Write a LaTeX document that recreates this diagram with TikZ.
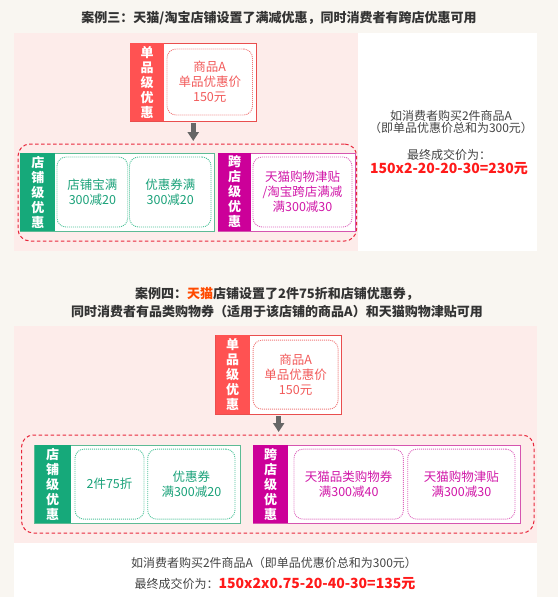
\documentclass[tikz,border=0pt]{standalone}
\usepackage{fontspec}
\setmainfont{Noto Sans CJK SC}
\usepackage{tikz}
\usetikzlibrary{positioning, arrows.meta}

\definecolor{cbg}{HTML}{F9F6F1}
\definecolor{cpink}{HTML}{FDECEA}
\definecolor{ctitle}{HTML}{333333}
\definecolor{ctext}{HTML}{444444}
\definecolor{corange}{HTML}{FF4A00}
\definecolor{cres}{HTML}{FF1A1A}
\definecolor{cred}{HTML}{FF5252}
\definecolor{credf}{HTML}{E94E4E}
\definecolor{credd}{HTML}{F07878}
\definecolor{credt}{HTML}{F25A5A}
\definecolor{cgreen}{HTML}{16A97A}
\definecolor{cgreenf}{HTML}{5DBB95}
\definecolor{cgreend}{HTML}{4EC39A}
\definecolor{cgreent}{HTML}{1BA27A}
\definecolor{cmag}{HTML}{CC0099}
\definecolor{cmagf}{HTML}{D555B0}
\definecolor{cmagd}{HTML}{DE66BE}
\definecolor{cmagt}{HTML}{D118A8}
\definecolor{cdash}{HTML}{E8283C}
\definecolor{cgray}{HTML}{666666}

\begin{document}
\begin{tikzpicture}[x=1pt, y=-1pt,
    every node/.style={inner sep=0pt, outer sep=0pt},
    framebox/.style={draw=#1, line width=0.9pt, fill=white, anchor=north west},
    lbl/.style={fill=#1, text=white, font=\fontsize{13}{15}\selectfont\bfseries,
        align=center, anchor=north west, minimum width=34, minimum height=78},
    cell/.style={rounded corners=9pt, line width=0.9pt, dash pattern=on 1pt off 1pt,
        fill=white, align=center, font=\fontsize{12.5}{15}\selectfont},
    redcell/.style={cell, draw=credd, text=credt},
    greencell/.style={cell, draw=cgreend, text=cgreent},
    magcell/.style={cell, draw=cmagd, text=cmagt},
    grp/.style={draw=cdash, line width=1pt, dash pattern=on 3.5pt off 2.5pt,
        rounded corners=12pt, anchor=north west},
    downarr/.style={draw=cgray, line width=5pt, -{Triangle[width=11pt, length=9pt]}},
    ttl/.style={font=\fontsize{13}{18}\selectfont\bfseries, text=ctitle, align=center},
    note/.style={font=\fontsize{12}{12}\selectfont, text=ctext, align=center},
    res/.style={font=\fontsize{14}{16}\selectfont\bfseries, text=cres}]

    \useasboundingbox (0,0) rectangle (558,597);
    % backgrounds
    \fill[cbg] (0,0) rectangle (558,597);
    \fill[white] (13.6,33) rectangle (537,251);
    \fill[cpink] (13.6,33) rectangle (358,251);
    \fill[cpink] (13.6,326) rectangle (537,543);
    \fill[white] (13.6,543) rectangle (537,597);

    % case three
    \node[ttl] (t3) at (279,18) {案例三：天猫/淘宝店铺设置了满减优惠，同时消费者有跨店优惠可用};

    \node[framebox=credf, minimum width=126.5, minimum height=78] (s3) at (130,43) {};
    \node[lbl=cred] (s3l) at (s3.north west) {单\\品\\级\\优\\惠};
    \node[redcell, minimum width=85.5, minimum height=66, right=3pt of s3l] (s3c) {商品A\\单品优惠价\\150元};

    \node[grp, minimum width=338.6, minimum height=97] (g3) at (18,144) {};
    \node[framebox=cgreenf, minimum width=194.2, minimum height=78] (k3) at (20.4,153) {};
    \node[lbl=cgreen, minimum width=35] (k3l) at (k3.north west) {店\\铺\\级\\优\\惠};
    \node[greencell, minimum width=70.7, minimum height=70, right=1.6pt of k3l] (k3a) {店铺宝满\\300减20};
    \node[greencell, minimum width=81.5, minimum height=70, right=1.8pt of k3a] (k3b) {优惠券满\\300减20};
    \node[framebox=cmagf, minimum width=137, minimum height=78] (m3) at (218,153) {};
    \node[lbl=cmag, minimum width=33] (m3l) at (m3.north west) {跨\\店\\级\\优\\惠};
    \node[magcell, minimum width=99, minimum height=70, right=2pt of m3l] (m3a) {天猫购物津贴\\/淘宝跨店满减\\满300减30};

    \draw[downarr, shorten <=2pt, shorten >=3pt] (s3.south) -- (s3.south |- g3.north);

    \node[note] (n3) at (451,122) {如消费者购买2件商品A\\（即单品优惠价总和为300元）};
    \node[note] (p3) at (449,155) {最终成交价为：};
    \node[res] (r3) at (449,169) {150x2-20-20-30=230元};

    % case four
    \node[ttl] (t4) at (277,303) {案例四：\textcolor{corange}{天猫}店铺设置了2件75折和店铺优惠券，\\同时消费者有品类购物券（适用于该店铺的商品A）和天猫购物津贴可用};

    \node[framebox=credf, minimum width=125.9, minimum height=78.7] (s4) at (215.7,335.3) {};
    \node[lbl=cred, minimum height=78.7] (s4l) at (s4.north west) {单\\品\\级\\优\\惠};
    \node[redcell, minimum width=85, minimum height=69, right=3.4pt of s4l] (s4c) {商品A\\单品优惠价\\150元};

    \node[grp, minimum width=512.5, minimum height=98] (g4) at (21.5,435) {};
    \node[framebox=cgreenf, minimum width=205.3, minimum height=78.3] (k4) at (34.7,445) {};
    \node[lbl=cgreen, minimum width=35.8, minimum height=78.3] (k4l) at (k4.north west) {店\\铺\\级\\优\\惠};
    \node[greencell, minimum width=69, minimum height=70, right=4.5pt of k4l] (k4a) {2件75折};
    \node[greencell, minimum width=87.3, minimum height=70, right=3.7pt of k4a] (k4b) {优惠券\\满300减20};
    \node[framebox=cmagf, minimum width=267, minimum height=78.3] (m4) at (253,445) {};
    \node[lbl=cmag, minimum width=35, minimum height=78.3] (m4l) at (m4.north west) {跨\\店\\级\\优\\惠};
    \node[magcell, minimum width=109.4, minimum height=70, right=6pt of m4l] (m4a) {天猫品类购物券\\满300减40};
    \node[magcell, minimum width=107.3, minimum height=70, right=4.3pt of m4a] (m4b) {天猫购物津贴\\满300减30};

    \draw[downarr, shorten <=2pt, shorten >=3pt] (s4.south) -- (s4.south |- g4.north);

    \node[note] (n4) at (274,563) {如消费者购买2件商品A（即单品优惠价总和为300元）};
    \node[note] (p4) at (275,584) {最终成交价为：\textcolor{cres}{\fontsize{14}{16}\selectfont\bfseries 150x2x0.75-20-40-30=135元}};
\end{tikzpicture}
\end{document}
